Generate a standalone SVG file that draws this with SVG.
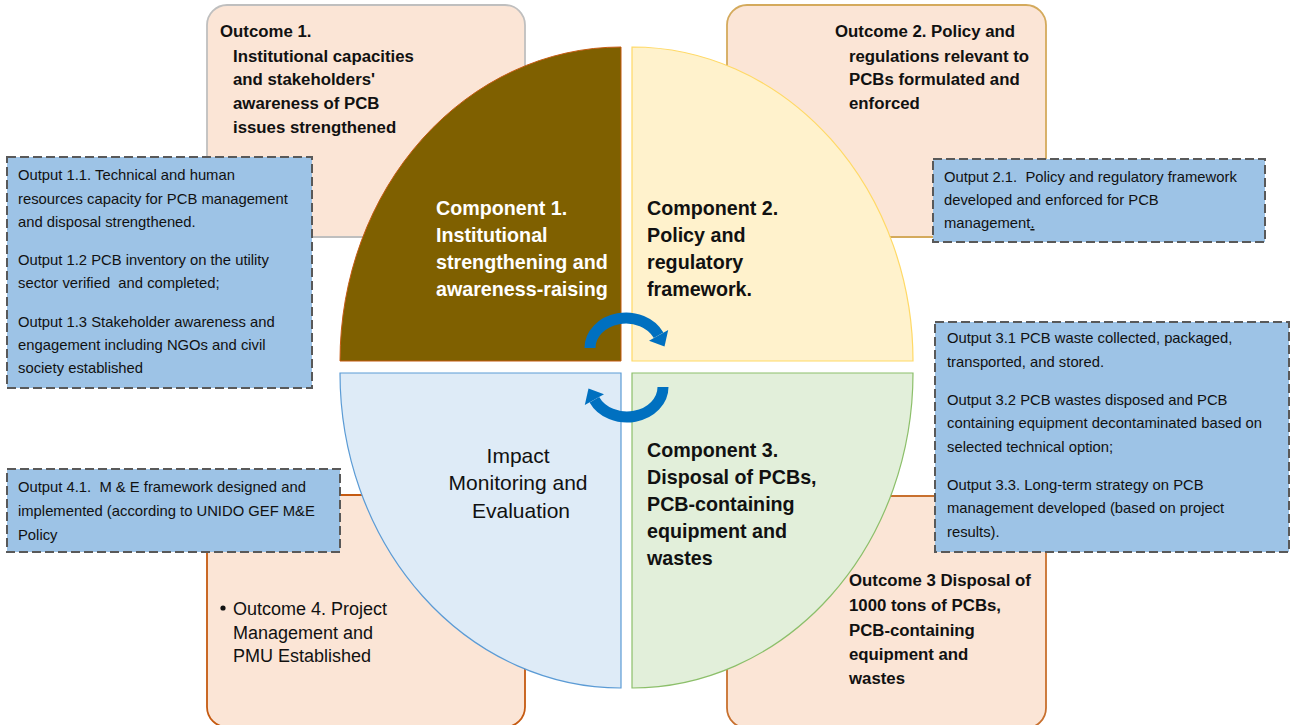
<svg xmlns="http://www.w3.org/2000/svg" width="1291" height="725" viewBox="0 0 1291 725">
  <style>
    .outcome { fill: #fbe5d6; stroke-width: 1.8; }
    .output { fill: #9dc3e6; stroke: #595959; stroke-width: 2; stroke-dasharray: 9 4; }
    .t { font-family: "Liberation Sans", Arial, sans-serif; fill: #111111; }
    .ob { font-size: 16.8px; font-weight: bold; }
    .cb { font-size: 19.7px; font-weight: bold; }
    .op { font-size: 14.8px; }
    .imp { font-size: 21px; text-anchor: middle; }
    .o4 { font-size: 18px; }
    .arc { fill: none; stroke: #0070c0; stroke-width: 11; }
    .head { fill: #0070c0; }
  </style>

  <!-- outcome panels behind the wheel -->
  <g id="outcome1">
    <rect class="outcome" x="207" y="5" width="318" height="232" rx="20" stroke="#bfbfbf"/>
    <text class="t ob">
      <tspan x="220" y="37">Outcome 1.</tspan>
      <tspan x="233" y="62">Institutional capacities</tspan>
      <tspan x="233" y="85">and stakeholders'</tspan>
      <tspan x="233" y="109">awareness of PCB</tspan>
      <tspan x="233" y="133">issues strengthened</tspan>
    </text>
  </g>
  <g id="outcome2">
    <rect class="outcome" x="727" y="5" width="319" height="232" rx="20" stroke="#d4aa5c"/>
    <text class="t ob">
      <tspan x="835" y="37">Outcome 2. Policy and</tspan>
      <tspan x="849" y="62">regulations relevant to</tspan>
      <tspan x="849" y="85">PCBs formulated and</tspan>
      <tspan x="849" y="109">enforced</tspan>
    </text>
  </g>
  <g id="outcome4">
    <rect class="outcome" x="207" y="495" width="318" height="232" rx="20" stroke="#c55a11"/>
    <circle cx="223" cy="608" r="2.6" fill="#111111"/>
    <text class="t o4">
      <tspan x="233" y="615">Outcome 4. Project</tspan>
      <tspan x="233" y="639">Management and</tspan>
      <tspan x="233" y="662">PMU Established</tspan>
    </text>
  </g>
  <g id="outcome3">
    <rect class="outcome" x="727" y="496" width="319" height="232" rx="20" stroke="#c8702e"/>
    <text class="t ob">
      <tspan x="849" y="586">Outcome 3 Disposal of</tspan>
      <tspan x="849" y="611">1000 tons of PCBs,</tspan>
      <tspan x="849" y="636">PCB-containing</tspan>
      <tspan x="849" y="660">equipment and</tspan>
      <tspan x="849" y="684">wastes</tspan>
    </text>
  </g>

  <!-- the four quarters of the wheel -->
  <g id="component1">
    <path d="M621,361 L340,361 A281,314 0 0 1 621,47 Z" fill="#7f6000" stroke="#c55a11" stroke-width="1"/>
    <text class="t cb" style="fill:#ffffff">
      <tspan x="436" y="215">Component 1.</tspan>
      <tspan x="436" y="242">Institutional</tspan>
      <tspan x="436" y="269">strengthening and</tspan>
      <tspan x="436" y="296">awareness-raising</tspan>
    </text>
  </g>
  <g id="component2">
    <path d="M632,361 L632,47 A281,314 0 0 1 913,361 Z" fill="#fff2cc" stroke="#ffd966" stroke-width="1.2"/>
    <text class="t cb">
      <tspan x="647" y="215">Component 2.</tspan>
      <tspan x="647" y="242">Policy and</tspan>
      <tspan x="647" y="269">regulatory</tspan>
      <tspan x="647" y="296">framework.</tspan>
    </text>
  </g>
  <g id="monitoring">
    <path d="M621,373 L621,688 A281,315 0 0 1 340,373 Z" fill="#deebf7" stroke="#5b9bd5" stroke-width="1.2"/>
    <text class="t imp">
      <tspan x="521" y="463">Impact</tspan>
      <tspan x="521" y="490">Monitoring and</tspan>
      <tspan x="521" y="518">Evaluation</tspan>
    </text>
  </g>
  <g id="component3">
    <path d="M632,373 L913,373 A281,315 0 0 1 632,688 Z" fill="#e2efda" stroke="#8cbf6a" stroke-width="1.2"/>
    <text class="t cb">
      <tspan x="647" y="457">Component 3.</tspan>
      <tspan x="647" y="484">Disposal of PCBs,</tspan>
      <tspan x="647" y="511">PCB-containing</tspan>
      <tspan x="647" y="538">equipment and</tspan>
      <tspan x="647" y="565">wastes</tspan>
    </text>
  </g>

  <!-- output call-outs -->
  <g id="output1">
    <rect class="output" x="7" y="157" width="305" height="231"/>
    <text class="t op">
      <tspan x="18" y="180">Output 1.1. Technical and human</tspan>
      <tspan x="18" y="204">resources capacity for PCB management</tspan>
      <tspan x="18" y="227">and disposal strengthened.</tspan>
      <tspan x="18" y="265">Output 1.2 PCB inventory on the utility</tspan>
      <tspan x="18" y="288">sector verified &#160;and completed;</tspan>
      <tspan x="18" y="327">Output 1.3 Stakeholder awareness and</tspan>
      <tspan x="18" y="350">engagement including NGOs and civil</tspan>
      <tspan x="18" y="373">society established</tspan>
    </text>
  </g>
  <g id="output2">
    <rect class="output" x="933" y="159" width="332" height="83"/>
    <text class="t op">
      <tspan x="944" y="182">Output 2.1. &#160;Policy and regulatory framework</tspan>
      <tspan x="944" y="205">developed and enforced for PCB</tspan>
      <tspan x="944" y="228">management<tspan text-decoration="underline">.</tspan></tspan>
    </text>
  </g>
  <g id="output3">
    <rect class="output" x="935" y="322" width="354" height="230"/>
    <text class="t op">
      <tspan x="947" y="343">Output 3.1 PCB waste collected, packaged,</tspan>
      <tspan x="947" y="367">transported, and stored.</tspan>
      <tspan x="947" y="405">Output 3.2 PCB wastes disposed and PCB</tspan>
      <tspan x="947" y="428">containing equipment decontaminated based on</tspan>
      <tspan x="947" y="452">selected technical option;</tspan>
      <tspan x="947" y="490">Output 3.3. Long-term strategy on PCB</tspan>
      <tspan x="947" y="513">management developed (based on project</tspan>
      <tspan x="947" y="537">results).</tspan>
    </text>
  </g>
  <g id="output4">
    <rect class="output" x="7" y="469" width="333" height="83"/>
    <text class="t op">
      <tspan x="18" y="492">Output 4.1. &#160;M &amp; E framework designed and</tspan>
      <tspan x="18" y="516">implemented (according to UNIDO GEF M&amp;E</tspan>
      <tspan x="18" y="540">Policy</tspan>
    </text>
  </g>

  <!-- cycle arrows at the hub -->
  <g id="connectors">
    <g id="cycle-top">
      <path class="arc" d="M590,348 A36,30 0 0 1 658.6,335.3"/>
      <polygon class="head" points="649,340.7 668.2,329.9 664.5,346.5"/>
    </g>
    <g id="cycle-bottom" transform="rotate(180 626.5 367.5)">
      <path class="arc" d="M590,348 A36,30 0 0 1 658.6,335.3"/>
      <polygon class="head" points="649,340.7 668.2,329.9 664.5,346.5"/>
    </g>
  </g>
</svg>
